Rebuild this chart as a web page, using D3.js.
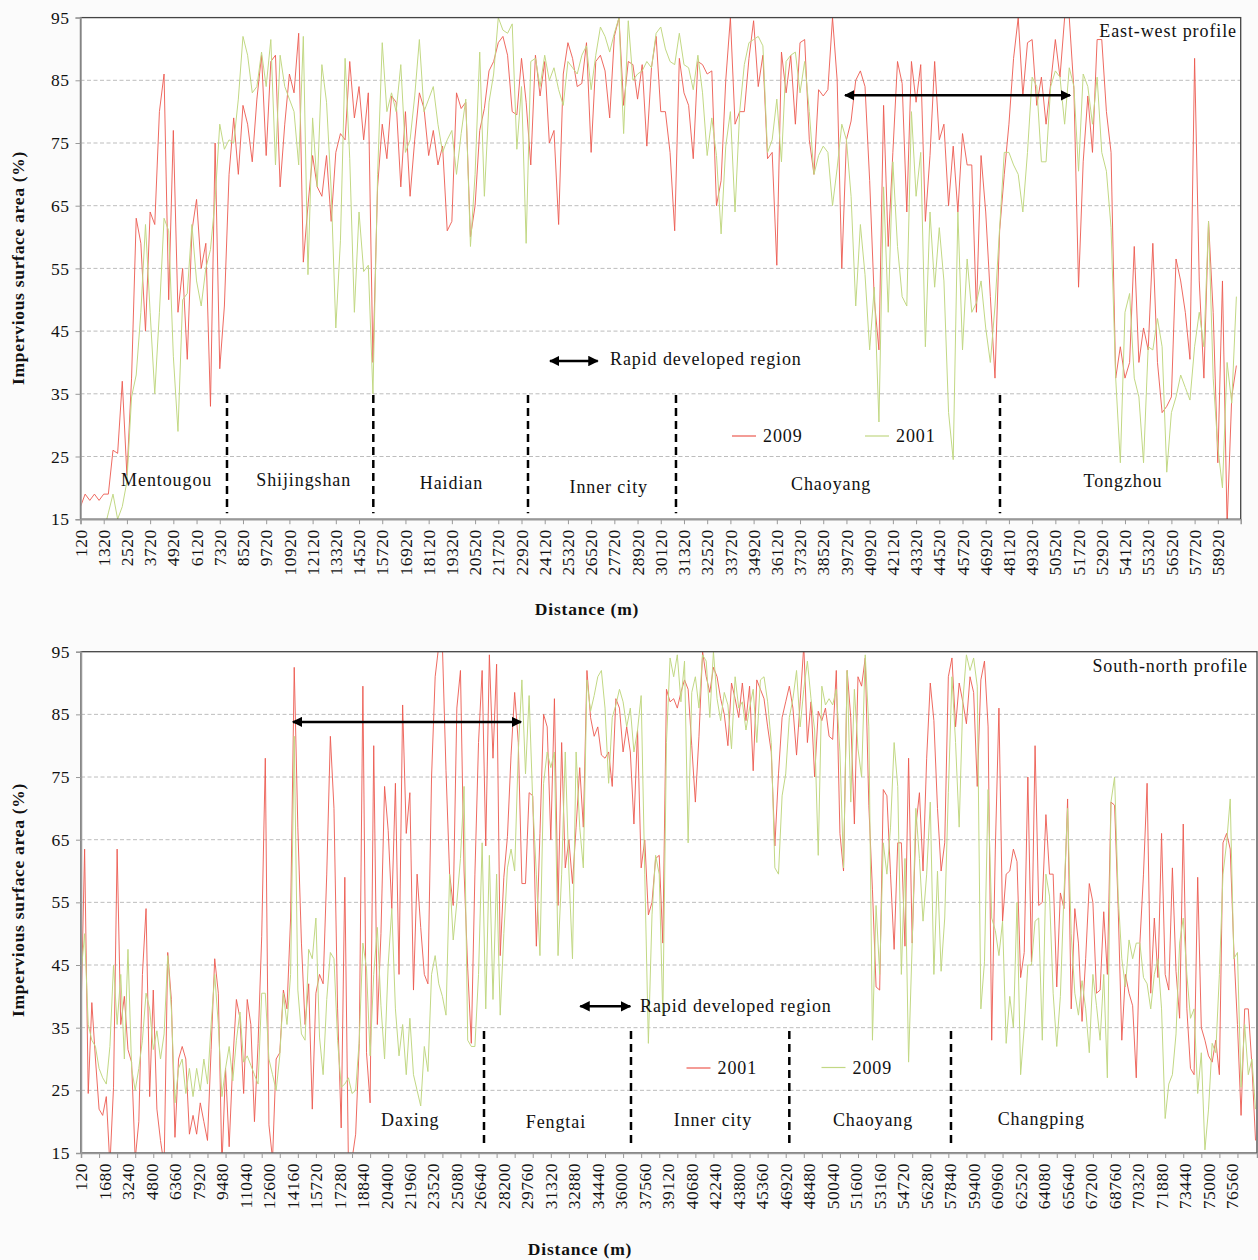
<!DOCTYPE html>
<html><head><meta charset="utf-8">
<script src="https://cdn.jsdelivr.net/npm/d3@7"></script>
<style>
html,body{margin:0;padding:0;background:#fbfbfb;}
svg{display:block;}
text{font-family:"Liberation Serif","Times New Roman",serif;fill:#111;}
</style></head><body>
<svg id="chart" width="1258" height="1260"></svg>
<script>
// ---------------- DATA ----------------
// East-west profile (distance step 240 m starting at 120 m)
const ewStart = 120, ewStep = 240;
const ew2009 = [17,19,18,19,18,19,19,26,25.5,37,22,37.5,
63,59,45,64,62,80,86,50,77,48,55,40.5,61,66,55,59,33,75,39,49,70,79,70,81,78,72,82,89,73,88,89,68,78,86,83,92.5,56,65,73,68,
66.5,73,62.5,73.5,76.5,75.5,88,79,84,75.5,83,40,68,78,72.5,82.5,81.5,68,80,66.5,75.5,83,80.5,73,77,71.5,74.5,61,62.5,83,80.5,81.5,60,65,77,80.5,86.5,88,91,92,89,80,79.5,88.5,81.5,71.5,89,82.5,88,75,77,
62,86,91,88.5,84,84.5,91,73.5,88,89,86.5,79,92,95,81,88,87.5,82,87.5,74.5,87,92,80,80,73.5,61,88.5,83,81,72.5,88,87.5,86,86.5,65,69,85,95,78,80,80,88.5,94.5,84,89,72.5,73.5,55.5,89.5,83,89,
78,91,91.5,75.5,70,83.5,82.5,83.5,95,85,55,75.5,78.5,85,86.5,84,69,50,42,81,58.5,73.5,88,84.5,64,88,81.5,87.5,62.5,73,88,75.5,78,65,74.5,64,76.5,71.5,71.5,48,73,64,50.5,37.5,61,70,78,88.5,95,82.5,91,
91.5,81,85.5,78,84.5,91.5,85.5,95,95,83.5,52,72,82.5,73.5,91.5,91.5,80,73.5,37.5,42.5,37.5,40,58.5,40,45.5,42,59,40,32,33,34.5,56.5,53,48,40.5,88.5,53,37.5,62.5,48,24,53,14,34.5,39.5];
const ew2001 = [13,13,13,14,14,13,16,19,15,17,21,34.5,
38,48,62,48,35,48,63,61,41,29,50,51,62,53,49,55,58,66,78,74,75.5,75,82,92,89,83,84,89.5,84,91.5,71.5,89,84,82,80,71.5,92,54,79,68,
87.5,81.5,67.5,45.5,59.5,88.5,72.5,48,64,54.5,55.5,35,70,91,80,83,80,87.5,73.5,75.5,82.5,91.5,80,82,84,78,73.5,75.5,77,70,76.5,82,58.5,70,89.5,66.5,81.5,86,95,93,92.5,94,74,84,59,88,88.5,84,89,85,87,
83.5,81,88,87,86,89,90.5,83.5,89,93.5,92,89.5,92.5,95,76.5,94.5,85,86,86.5,88,87,92.5,93.5,90,88,87.5,92.5,87.5,87,83.5,89,83,73,79,73,60.5,74.5,80,64,80,87.5,91,91.5,92,90.5,73.5,75.5,82,72,88,89,
89.5,83,88,80,70,73,74.5,73.5,65,71,78,75.5,66.5,49,62,54,42,52,30.5,68,48,72,58.5,50.5,49,80,66.5,73.5,42.5,64,52,61.5,53,32,24.5,64,42,56.5,48,49.5,53,45.5,40,49,61.5,73.5,73.5,71.5,70,64,73.5,
85.5,84,72,72,84,86.5,85.5,78,87,84,70.5,86,84,78,85.5,73.5,70.5,61.5,37.5,24,48,51,37.5,34.5,24,42.5,42,47,42.5,22.5,32,34.5,38,36,34,42.5,48,42.5,62.5,37.5,26.5,20,40,33.5,50.5];

// South-north profile (distance step 240 m starting at 120 m)
const snStart = 120, snStep = 240;
const sn2001 = [37,63.5,24.5,39,30,22,21,24,13,25.5,63.5,35.5,40,31.5,29.5,14,20,43.5,54,24,41,22,17,13,47,39.5,17.5,30,32,30,18,21,18,23,20,17,31.5,46,40.5,13,28.5,16,29.5,39.5,36.5,24.5,39.5,35.5,20,32.5,49.5,78,19.5,14,30,31,41,38,52.5,92.5,67,48.5,35.5,42,22,40.5,
43.5,42,59.5,81.5,70,38,19,59,13,14,18,32.5,89.5,31,23,80,35.5,50,73.5,66.5,54,74,43.5,86.5,66,72.5,41,59.5,51,43.5,42,75,91,96,96,76,59.5,54.5,86,92,60,44.5,32.5,59.5,80.5,92,64,94.5,78,93,46.5,59,65.5,78.5,88.5,80.5,58,58,72.5,72,48,66,85,83,65,87.5,
54.5,80.5,60.5,65,58,67,76.5,67,92,84.5,81.5,83,78.5,78,79,73.5,87.5,86,79,83,79,67.5,82.5,60.5,65,53,55,62,62.5,48.5,89,87,87.5,86,88.5,90.5,89,80,71,81.5,95,91,88.5,92.5,91,87.5,85,80,90,87.5,84.5,90,84,89.5,76,90.5,89,87.5,83,79,64,75.5,84.5,87,89.5,
86,78.5,87,96,80.5,87,75,85.5,84,86,81.5,81,92,66,60,92,84.5,67.5,91,89.5,94,70.5,57,41.5,41,73,72,59.5,47.5,64.5,64.5,48,78,48.5,67,72.5,60,78,90,84,70,60,64.5,91,94,83,90,87,83.5,91,88.5,73.5,90.5,93.5,83,33,63.5,86,52,59.5,60,63.5,61.5,43,47,75,
45.5,80,54.5,55,69,59.5,59.5,41.5,56.5,54,71.5,38,54,48.5,36,46,58,55,40.5,41,53.5,43.5,71,70.5,54,33,43.5,40.5,38.5,27,48.5,59.5,74,40.5,52.5,43,66,43.5,41,60.5,44,36.5,67.5,38,28.5,27.5,59,35,33,30.5,29.5,33,27.5,64.5,66,63.5,47.5,35.5,21,38,38,29,17];
const sn2009 = [43.5,50,35.5,33,32,28.5,27,26,32,45,35.5,43.5,30,47.5,28.5,25,28.5,33,40.5,38,31.5,34.5,30,34,46.5,38,23,28.5,30,24.5,28.5,24,28.5,25,30,26,35.5,43.5,35.5,24,28.5,32,26.5,33,37.5,29.5,30.5,29,27.5,26,40.5,40.5,30,27.5,25,30.5,40.5,35.5,43.5,81.5,41,34,33,47.5,46,52.5,
33.5,27.5,39.5,47,46,33,25.5,26,27,24.5,25,33,48.5,44.5,30.5,43.5,51,38.5,30,45,54,38,30.5,35.5,27.5,36.5,27.5,25,22.5,32,28,43.5,46.5,42,40,37,59.5,49,55,62,73.5,33,32,32,43.5,64.5,38,62.5,39.5,59.5,37,50,60.5,63.5,60,79,90.5,75.5,88,71,59.5,46.5,74,79,76.5,79,
46.5,59.5,79,60,46,79,67,60.5,90.5,85.5,88,91,92,86,74,84.5,86.5,89,87,83,86,79,82.5,88,59.5,32.5,53,62.5,59.5,37,80.5,94,91,94.5,87,93.5,64.5,88.5,91,86,94.5,93.5,84.5,95,87.5,84,88.5,86.5,79.5,91,86,87,82.5,86,89,80.5,90.5,91,87,80.5,60.5,59.5,72,75.5,84.5,
87.5,92,83,89,93.5,87.5,82.5,62.5,89.5,86.5,87.5,86.5,89,79,60.5,92,71,89,79.5,75,94.5,83,33,54.5,43.5,64.5,59.5,67,80.5,73.5,43.5,62,29.5,48.5,70,62,52,59.5,71,43.5,60,44,52.5,72.5,91,80.5,67,87,94.5,92,94,89.5,38,45.5,73,52.5,50.5,46.5,52,32.5,40,35,55,27.5,35,45,
45,52,52.5,33,59.5,56,40.5,32,40,56.5,70,50,40.5,37,42.5,38,31,43.5,38.5,33,43.5,27,71,75,56,46,41.5,49,46,48.5,48.5,43,42,38,43.5,46,38,20.5,26,27.5,34,48.5,52.5,43.5,36.5,38,24.5,31,15.5,22,32.5,31,43.5,59.5,64.5,71.5,46,47,25.5,35.5,27.5,30,22];

// Axis tick labels
const yTickValues = [15,25,35,45,55,65,75,85,95];
const ewTickLabels = [120,1320,2520,3720,4920,6120,7320,8520,9720,10920,12120,13320,14520,15720,16920,18120,19320,20520,21720,22920,24120,25320,26520,27720,28920,30120,31320,32520,33720,34920,36120,37320,38520,39720,40920,42120,43320,44520,45720,46920,48120,49320,50520,51720,52920,54120,55320,56520,57720,58920];
const snTickLabels = [120,1680,3240,4800,6360,7920,9480,11040,12600,14160,15720,17280,18840,20400,21960,23520,25080,26640,28200,29760,31320,32880,34440,36000,37560,39120,40680,42240,43800,45360,46920,48480,50040,51600,53160,54720,56280,57840,59400,60960,62520,64080,65640,67200,68760,70320,71880,73440,75000,76560];

// District names and region boundaries (distance, m)
const ewDistricts = ["Mentougou","Shijingshan","Haidian","Inner city","Chaoyang","Tongzhou"];
const ewDistrictAt = [4575,11660,19300,27430,38930,54020];
const ewBoundaries = [7694,15258,23256,30907,47658];
const snDistricts = ["Daxing","Fengtai","Inner city","Chaoyang","Changping"];
const snDistrictAt = [21990,31660,42090,52720,63890];
const snBoundaries = [26883,36645,47159,57896];

// ---------------- DRAW ----------------
const svg = d3.select('#chart');
const defs = svg.append('defs');
function arrowMarker(id, orient){
  defs.append('marker').attr('id',id).attr('viewBox','0 0 10 10').attr('refX',9).attr('refY',5)
    .attr('markerWidth',4.2).attr('markerHeight',4.2).attr('markerUnits','strokeWidth').attr('orient',orient)
    .append('path').attr('d','M0,0 L10,5 L0,10 z').attr('fill','#000');
}
arrowMarker('arrEnd','auto');
arrowMarker('arrStart','auto-start-reverse');

const FS = 17.5;

function drawPanel(cfg){
  const x = d3.scaleLinear().domain(cfg.xDomain).range([cfg.left, cfg.right]);
  const y = d3.scaleLinear().domain([15,95]).range([cfg.bottom, cfg.top]);
  const g = svg.append('g');
  g.append('rect').attr('x',cfg.left).attr('y',cfg.top).attr('width',cfg.right-cfg.left).attr('height',cfg.bottom-cfg.top).attr('fill','#fff');

  // grid
  g.selectAll('line.grid').data(yTickValues.filter(v=>v>15&&v<95)).join('line')
    .attr('x1',cfg.left).attr('x2',cfg.right).attr('y1',d=>y(d)).attr('y2',d=>y(d))
    .attr('stroke','#bdbdbd').attr('stroke-width',1).attr('stroke-dasharray','4,2.5');

  // series
  const clipId = cfg.id+'clip';
  defs.append('clipPath').attr('id',clipId).append('rect')
    .attr('x',cfg.left).attr('y',cfg.top).attr('width',cfg.right-cfg.left).attr('height',cfg.bottom-cfg.top);
  cfg.series.forEach(s=>{
    const line = d3.line().x((d,i)=>x(cfg.start+i*cfg.step)).y(d=>y(d));
    g.append('path').datum(s.values).attr('d',line).attr('fill','none')
      .attr('stroke',s.color).attr('stroke-width',1).attr('stroke-opacity',s.opacity)
      .attr('stroke-linejoin','round').attr('clip-path',`url(#${clipId})`);
  });

  // frame
  g.append('rect').attr('x',cfg.left).attr('y',cfg.top).attr('width',cfg.right-cfg.left).attr('height',cfg.bottom-cfg.top)
    .attr('fill','none').attr('stroke','#444').attr('stroke-width',1.3);

  // y axis
  const ya = g.append('g').attr('transform',`translate(${cfg.left},0)`)
    .call(d3.axisLeft(y).tickValues(yTickValues).tickSize(5).tickPadding(6).tickFormat(d3.format('d')));
  ya.select('.domain').attr('stroke','#999').attr('stroke-width',1.5);
  ya.selectAll('.tick line').attr('stroke','#999');
  ya.selectAll('.tick text').attr('font-size',FS).attr('letter-spacing',0.5).attr('font-family','"Liberation Serif",serif').attr('fill','#111');

  // x axis
  const xa = g.append('g').attr('transform',`translate(0,${cfg.bottom})`)
    .call(d3.axisBottom(x).tickValues(cfg.tickMarks).tickSize(5).tickFormat(''));
  xa.select('.domain').attr('stroke','#999').attr('stroke-width',1.5);
  xa.selectAll('.tick line').attr('stroke','#999');
  g.selectAll('text.xlab').data(cfg.tickLabels).join('text')
    .attr('transform',d=>`translate(${x(d)},${cfg.bottom+10}) rotate(-90)`)
    .attr('text-anchor','end').attr('dy','0.35em').attr('font-size',FS).attr('letter-spacing',0.5)
    .text(d=>d);

  // axis titles
  g.append('text').attr('transform',`translate(18,${cfg.ytitleY}) rotate(-90)`).attr('text-anchor','middle')
    .attr('dy','0.35em').attr('font-weight','bold').attr('font-size',FS).attr('letter-spacing',0.7)
    .text('Impervious surface area (%)');
  g.append('text').attr('x',cfg.xtitleX).attr('y',cfg.xtitleY).attr('text-anchor','middle')
    .attr('font-weight','bold').attr('font-size',FS).attr('letter-spacing',0.8).text('Distance (m)');

  // boundaries
  g.selectAll('line.sep').data(cfg.boundaries).join('line')
    .attr('x1',d=>x(d)).attr('x2',d=>x(d)).attr('y1',cfg.sepTop).attr('y2',cfg.bottom-6)
    .attr('stroke','#000').attr('stroke-width',2.5).attr('stroke-dasharray','8,5');

  // district labels
  g.selectAll('text.dist').data(cfg.districts).join('text')
    .attr('x',(d,i)=>x(cfg.districtAt[i])).attr('y',(d,i)=>cfg.districtY[i]).attr('text-anchor','middle')
    .attr('font-size',18).attr('letter-spacing',0.9).text(d=>d);

  // long arrow
  g.append('line').attr('x1',x(cfg.longArrow[0])).attr('x2',x(cfg.longArrow[1]))
    .attr('y1',y(cfg.longArrow[2])).attr('y2',y(cfg.longArrow[2]))
    .attr('stroke','#000').attr('stroke-width',2.5).attr('marker-start','url(#arrStart)').attr('marker-end','url(#arrEnd)');
  // rapid region key
  g.append('line').attr('x1',cfg.keyArrow[0]).attr('x2',cfg.keyArrow[1]).attr('y1',cfg.keyArrow[2]).attr('y2',cfg.keyArrow[2])
    .attr('stroke','#000').attr('stroke-width',2.5).attr('marker-start','url(#arrStart)').attr('marker-end','url(#arrEnd)');
  g.append('text').attr('x',cfg.keyText[0]).attr('y',cfg.keyText[1]).attr('font-size',18).attr('letter-spacing',0.9)
    .text('Rapid developed region');

  // legend
  cfg.legend.forEach(l=>{
    g.append('line').attr('x1',l.x).attr('x2',l.x+24).attr('y1',l.y).attr('y2',l.y)
      .attr('stroke',l.color).attr('stroke-width',1.2);
    g.append('text').attr('x',l.x+31).attr('y',l.y+6).attr('font-size',18).attr('letter-spacing',0.9).text(l.label);
  });

  // title
  g.append('text').attr('x',cfg.titlePos[0]).attr('y',cfg.titlePos[1]).attr('text-anchor','end')
    .attr('font-size',18).attr('letter-spacing',0.9).text(cfg.title);
}

const RED = '#ec5a50', GREEN = '#c2d884';

drawPanel({
  id:'ew', left:80.5, right:1240.7, top:17.6, bottom:519.2,
  xDomain:[120, 60103], start:ewStart, step:ewStep,
  series:[{values:ew2009,color:RED,opacity:0.9},{values:ew2001,color:GREEN,opacity:1}],
  tickMarks: ewTickLabels, tickLabels: ewTickLabels,
  ytitleY:268, xtitleX:587, xtitleY:615,
  boundaries: ewBoundaries, sepTop:395,
  districts: ewDistricts, districtAt: ewDistrictAt, districtY:[486,486,489,493,490,487],
  longArrow:[39645,51278,82.6], keyArrow:[550,597.7,361], keyText:[610,365],
  legend:[{x:732,y:436,color:RED,label:'2009'},{x:865,y:436,color:GREEN,label:'2001'}],
  title:'East-west profile', titlePos:[1237,37]
});

const snMarks = d3.range(120, 78000, 1200);
drawPanel({
  id:'sn', left:81, right:1257, top:651.7, bottom:1153,
  xDomain:[120, 78218], start:snStart, step:snStep,
  series:[{values:sn2001,color:RED,opacity:0.9},{values:sn2009,color:GREEN,opacity:1}],
  tickMarks: snMarks, tickLabels: snTickLabels,
  ytitleY:900, xtitleX:580, xtitleY:1255,
  boundaries: snBoundaries, sepTop:1031,
  districts: snDistricts, districtAt: snDistrictAt, districtY:[1126,1128,1126,1126,1125],
  longArrow:[14199,29340,83.8], keyArrow:[580.3,630.3,1006.3], keyText:[640,1012],
  legend:[{x:686.5,y:1068,color:RED,label:'2001'},{x:821.5,y:1067.5,color:GREEN,label:'2009'}],
  title:'South-north profile', titlePos:[1248,672]
});
</script>
</body></html>
